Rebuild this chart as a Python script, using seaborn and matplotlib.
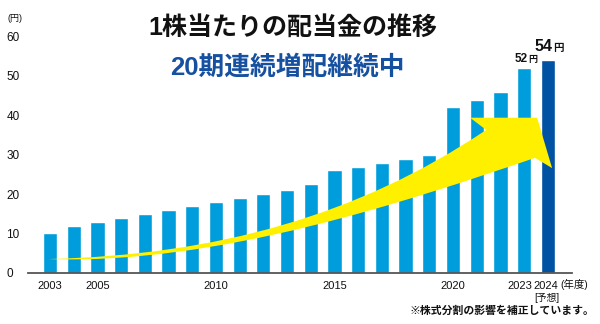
import matplotlib
matplotlib.use("Agg")
import matplotlib.pyplot as plt
from matplotlib.path import Path
from matplotlib.patches import PathPatch
import matplotlib.transforms as mtransforms
import seaborn as sns
import pandas as pd

# Dividend per share by fiscal year (yen); 2024 is the forecast
years = [str(y) for y in range(2003, 2025)]
dividends = [10, 12, 13, 14, 15, 16, 17, 18, 19, 20, 21, 22.5,
             26, 27, 28, 29, 30, 42, 44, 46, 52, 54]
tick_years = ["2003", "2005", "2010", "2015", "2020", "2023", "2024"]
y_ticks = [0, 10, 20, 30, 40, 50, 60]
labelled_years = ["2023", "2024"]

BAR_BLUE = "#009ddc"
FORECAST_BLUE = "#0053a3"
ARROW_YELLOW = "#fff000"

sns.set_theme(style="white")
plt.rcParams["font.family"] = ["Liberation Sans", "Noto Sans CJK JP"]
JP = ["Noto Sans CJK JP", "Liberation Sans"]
LATIN_JP = ["Liberation Sans", "Noto Sans CJK JP"]

df = pd.DataFrame({"year": years, "dividend": dividends})
colors = {y: (FORECAST_BLUE if y == "2024" else BAR_BLUE) for y in years}

fig = plt.figure(figsize=(6.0, 3.24), dpi=100)
ax = fig.add_axes([0.0467, 0.158, 0.9066, 0.729])

sns.barplot(data=df, x="year", y="dividend", hue="year", palette=colors,
            legend=False, width=0.6, saturation=1, ax=ax, zorder=2)

ax.set_xlim(-0.93, 22.02)
ax.set_ylim(0, 60)
ax.set_xlabel("")
ax.set_ylabel("")

# axes styling
for side in ("top", "right", "left"):
    ax.spines[side].set_visible(False)
ax.spines["bottom"].set_color("#555555")
ax.spines["bottom"].set_linewidth(1.3)
ax.set_yticks(y_ticks)
ax.set_yticklabels([str(t) for t in y_ticks], fontsize=8.5, color="#111111")
for lab in ax.get_yticklabels():
    lab.set_horizontalalignment("left")
ax.tick_params(axis="y", length=0, pad=15.5)
ax.set_xticks([years.index(y) for y in tick_years])
ax.set_xticklabels(tick_years, fontsize=8, color="#111111")
ax.tick_params(axis="x", length=0, pad=6)
# nudge the two crowded end labels apart
nudges = {"2023": -4.5, "2024": -2.0}
for lab in ax.get_xticklabels():
    shift = nudges.get(lab.get_text())
    if shift:
        lab.set_transform(lab.get_transform() +
                          mtransforms.ScaledTranslation(shift / 100, 0,
                                                        fig.dpi_scale_trans))

# growth arrow sweeping up to the latest bars
verts = [
    (-0.08, 3.5),
    (7.0, 4.5), (13.0, 14.5), (18.4, 36.3),
    (17.72, 39.4),
    (20.55, 39.4),
    (21.18, 26.6),
    (20.46, 29.2),
    (15.0, 18.0), (7.0, 2.0), (-0.08, 3.5),
    (-0.08, 3.5),
]
codes = [Path.MOVETO,
         Path.CURVE4, Path.CURVE4, Path.CURVE4,
         Path.LINETO, Path.LINETO, Path.LINETO, Path.LINETO,
         Path.CURVE4, Path.CURVE4, Path.CURVE4,
         Path.CLOSEPOLY]
ax.add_patch(PathPatch(Path(verts, codes), facecolor=ARROW_YELLOW,
                       edgecolor="none", zorder=3))

# value labels for the last two years
label_style = {
    "2023": dict(num=8.5, unit=6.5, dx=2.5, dy=4.6),
    "2024": dict(num=11.5, unit=7.5, dx=3.6, dy=6.8),
}
for y in labelled_years:
    i = years.index(y)
    v = dividends[i]
    st = label_style[y]
    ax.annotate(f"{v:g}", xy=(i, v), xytext=(st["dx"], st["dy"]),
                textcoords="offset points", ha="right", va="baseline",
                fontsize=st["num"], fontweight="bold", color="#111111",
                annotation_clip=False, zorder=4)
    ax.annotate("円", xy=(i, v), xytext=(st["dx"] + 0.3, st["dy"]),
                textcoords="offset points", ha="left", va="baseline",
                fontsize=st["unit"], fontweight="bold", color="#111111",
                family=JP, annotation_clip=False, zorder=4)

# axis unit captions
trans = mtransforms.blended_transform_factory(ax.transData, ax.transAxes)
ax.text(21.55, -0.05, "(年度)", transform=trans, ha="left", va="center",
        fontsize=7.5, family=LATIN_JP, color="#111111", clip_on=False)
ax.text(20.97, -0.108, "[予想]", transform=trans, ha="center", va="center",
        fontsize=7, family=LATIN_JP, color="#111111", clip_on=False)
fig.text(0.012, 0.944, "(円)", ha="left", va="center", fontsize=6.5,
         family=LATIN_JP, color="#111111")

# headings
fig.text(0.4875, 0.9136, "1株当たりの配当金の推移", ha="center", va="center",
         fontsize=18, fontweight="bold", family=LATIN_JP, color="#111111")
fig.text(0.479, 0.792, "20期連続増配継続中", ha="center", va="center",
         fontsize=18.5, fontweight="bold", family=LATIN_JP, color="#1650a0")

fig.text(0.991, 0.040, "※株式分割の影響を補正しています。", ha="right",
         va="center", fontsize=7.8, fontweight="bold", family=JP,
         color="#111111")

fig.savefig("out.png", dpi=100)
